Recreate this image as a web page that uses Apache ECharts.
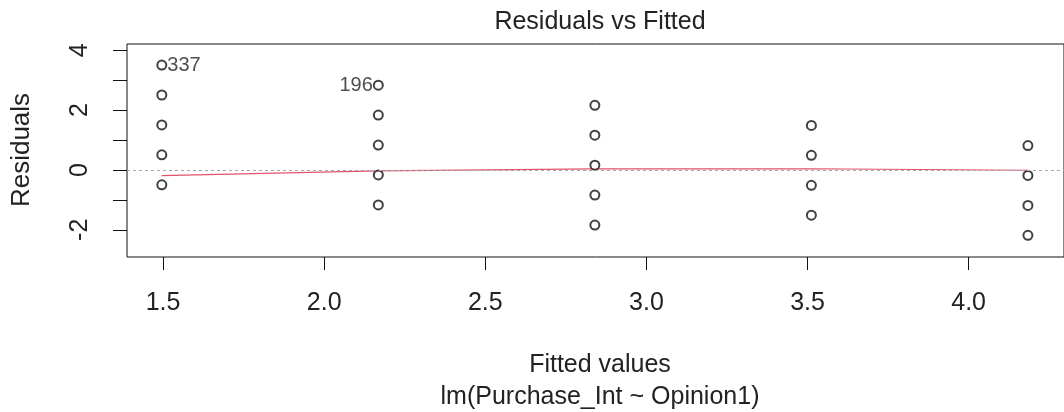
<!DOCTYPE html>
<html>
<head>
<meta charset="utf-8">
<script src="https://cdn.jsdelivr.net/npm/echarts@6/dist/echarts.min.js"></script>
<style>
html,body{margin:0;padding:0;background:#fff;}
#chart{width:1064px;height:412px;}
</style>
</head>
<body>
<div id="chart"></div>
<script>
// ---- data ----
const fittedValues = [1.496, 2.168, 2.840, 3.512, 4.184];
const residGroup1 = [3.504, 2.504, 1.504, 0.504, -0.496];
const residGroup2 = [2.832, 1.832, 0.832, -0.168, -1.168];
const residGroup3 = [2.160, 1.160, 0.160, -0.840, -1.840];
const residGroup4 = [1.488, 0.488, -0.512, -1.512];
const residGroup5 = [0.816, -0.184, -1.184, -2.184];
const smoothValues = [-0.19, -0.03, 0.035, 0.04, -0.01];
const xTickValues = [1.5, 2.0, 2.5, 3.0, 3.5, 4.0];
const yTickValues = [-2, -1, 0, 1, 2, 3, 4];
const yLabelValues = [-2, 0, 2, 4];
const idNames = ['337', '196'];
const idGroup = [0, 1];
const idIndex = [0, 0];
const idSide = ['right', 'left'];
const titleText = 'Residuals vs Fitted';
const xTitle = 'Fitted values';
const subTitle = 'lm(Purchase_Int ~ Opinion1)';
const yTitle = 'Residuals';

const groups = [residGroup1, residGroup2, residGroup3, residGroup4, residGroup5];
const points = [];
groups.forEach(function (g, gi) {
  g.forEach(function (r, ri) {
    const item = { value: [fittedValues[gi], r] };
    for (let k = 0; k < idNames.length; k++) {
      if (idGroup[k] === gi && idIndex[k] === ri) {
        item.label = {
          show: true, formatter: idNames[k], position: idSide[k], distance: 0,
          fontSize: 20, color: '#222', fontFamily: 'Liberation Sans, Arial, sans-serif'
        };
      }
    }
    points.push(item);
  });
});
const smoothData = fittedValues.map(function (x, i) { return [x, smoothValues[i]]; });

const FONT = 'Liberation Sans, Arial, sans-serif';
const chart = echarts.init(document.getElementById('chart'), null, { renderer: 'canvas' });
chart.setOption({
  animation: false,
  backgroundColor: '#fff',
  grid: { left: 127, top: 44, width: 946, height: 213, show: true, borderColor: '#111', borderWidth: 1, containLabel: false },
  xAxis: {
    type: 'value', min: 1.388, max: 4.296,
    axisLine: { show: false, onZero: false },
    splitLine: { show: false },
    axisTick: { show: true, length: 13, customValues: xTickValues, lineStyle: { color: '#111', width: 1 } },
    axisLabel: { customValues: xTickValues, formatter: function (v) { return v.toFixed(1); }, margin: 34, fontSize: 25, color: '#222', fontFamily: FONT }
  },
  yAxis: {
    type: 'value', min: -2.908, max: 4.208,
    axisLine: { show: false, onZero: false },
    splitLine: { show: false },
    axisTick: { show: true, length: 14, customValues: yTickValues, lineStyle: { color: '#111', width: 1 } },
    axisLabel: { customValues: yLabelValues, rotate: 90, margin: 34, fontSize: 25, color: '#222', fontFamily: FONT }
  },
  graphic: [
    { type: 'text', x: 600, y: 22, style: { text: titleText, font: '25px ' + FONT, fill: '#222', align: 'center', verticalAlign: 'middle' } },
    { type: 'text', x: 600, y: 365, style: { text: xTitle, font: '25px ' + FONT, fill: '#222', align: 'center', verticalAlign: 'middle' } },
    { type: 'text', x: 600, y: 397, style: { text: subTitle, font: '25px ' + FONT, fill: '#222', align: 'center', verticalAlign: 'middle' } },
    { type: 'text', x: 22, y: 150, rotation: Math.PI / 2, style: { text: yTitle, font: '26px ' + FONT, fill: '#222', align: 'center', verticalAlign: 'middle' } }
  ],
  series: [
    {
      type: 'line', data: smoothData, showSymbol: false, symbol: 'none', z: 2,
      lineStyle: { color: '#DF536B', width: 1.2 }
    },
    {
      type: 'line', data: [], z: 3,
      markLine: {
        silent: true, symbol: 'none', label: { show: false },
        lineStyle: { color: '#a8a8a8', type: [3, 3], width: 1 },
        data: [{ yAxis: 0 }]
      }
    },
    {
      type: 'scatter', data: points, symbol: 'emptyCircle', symbolSize: 9, z: 4,
      itemStyle: { color: '#111', borderColor: '#111', borderWidth: 1.3 }
    }
  ]
});
</script>
</body>
</html>
